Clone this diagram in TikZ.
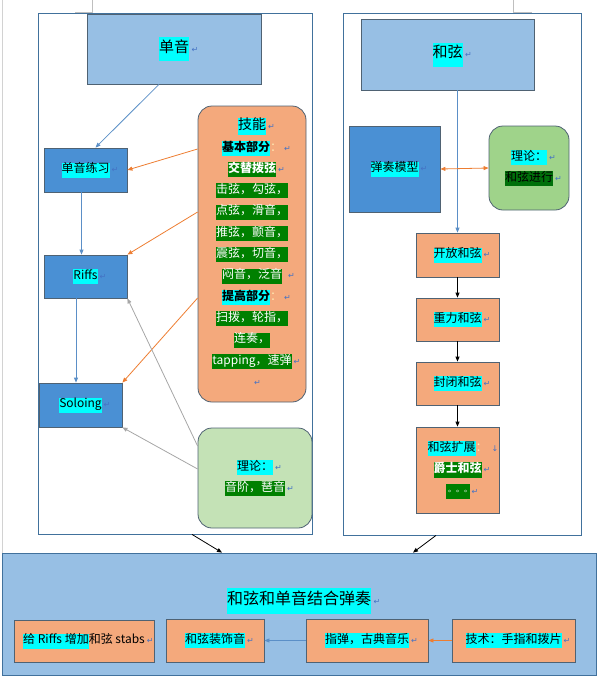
\documentclass[tikz,border=0pt]{standalone}
\usepackage{fontspec}
\setmainfont{Noto Sans CJK SC}
\newfontfamily\symfont{DejaVu Sans}
\newfontfamily\tcfont{Noto Sans CJK TC}
\usetikzlibrary{arrows.meta}

\definecolor{lightblue}{HTML}{97BFE4}
\definecolor{midblue}{HTML}{4A90D4}
\definecolor{orangefill}{HTML}{F4A97C}
\definecolor{palegreen}{HTML}{C4E2B6}
\definecolor{leafgreen}{HTML}{9FD38A}
\definecolor{hlcyan}{HTML}{00FFFF}
\definecolor{hlgreen}{HTML}{008000}
\definecolor{hldark}{HTML}{00700A}
\definecolor{edgegray}{HTML}{4F6273}
\definecolor{framec}{HTML}{41719C}
\definecolor{arrowblue}{HTML}{5B8FC7}
\definecolor{arroworange}{HTML}{ED7D31}
\definecolor{arrowgray}{HTML}{A6A6A6}
\definecolor{markblue}{HTML}{4472C4}
\definecolor{colonc}{HTML}{FFE7B0}

% highlights and paragraph marks
\newcommand\hstrut{\rule[-0.4em]{0pt}{1.25em}}
\newcommand\hlc[1]{{\setlength\fboxsep{0pt}\colorbox{hlcyan}{\hstrut#1}}}
\newcommand\hlg[1]{{\setlength\fboxsep{0pt}\colorbox{hlgreen}{\hstrut\color{white}#1}}}
\newcommand\hld[1]{{\setlength\fboxsep{0pt}\colorbox{hldark}{\hstrut#1}}}
\newcommand\hlbig[1]{{\setlength\fboxsep{0pt}\colorbox{hlcyan}{\rule[-0.6em]{0pt}{1.6em}#1}}}
\newcommand\retmark{\rlap{\,\symfont\fontsize{8}{8}\selectfont\color{markblue}↵}}
\newcommand\downmark{\rlap{\hspace{4pt}\symfont\fontsize{8}{8}\selectfont\color{markblue}↓}}
\newcommand\pcolon{{\color{colonc}：}}

\begin{document}
\begin{tikzpicture}[x=1pt,y=-1pt,
  >={Triangle[length=5pt,width=4pt]},
  every node/.style={font=\fontsize{12}{21.3}\selectfont, inner sep=0pt, align=center},
  frame/.style={draw=framec, line width=0.8pt},
  titlebox/.style={draw=edgegray, line width=0.8pt, fill=lightblue},
  bluebox/.style={draw=edgegray, line width=0.8pt, fill=midblue},
  orbox/.style={draw=edgegray, line width=0.8pt, fill=orangefill},
  skillbox/.style={orbox, rounded corners=14pt},
  theorybox/.style={draw=edgegray, line width=0.8pt, rounded corners=14pt},
  blueline/.style={->, draw=arrowblue, line width=0.8pt},
  orline/.style={->, draw=arroworange, line width=0.8pt},
  grayline/.style={->, draw=arrowgray, line width=0.8pt},
  blackline/.style={->, draw=black, line width=0.8pt}]
\useasboundingbox (0,0) rectangle (599,686);

% page marks
\draw[gray!35] (2,0) -- (2,553);
\draw[gray!50] (75,12) -- (92,12) -- (92,0);
\draw[gray!50] (532,12) -- (513,12) -- (513,0);

% frames
\node[frame, minimum width=274pt, minimum height=521pt] (leftf) at (175,273.5) {};
\node[frame, minimum width=238pt, minimum height=522pt] (rightf) at (462,274) {};
\node[titlebox, draw=framec, minimum width=594pt, minimum height=122pt] (combo) at (299,614) {};

% single notes
\node[titlebox, minimum width=174pt, minimum height=70pt, font=\fontsize{15}{18}\selectfont] (danyin) at (174,49) {\hlbig{单音}\retmark};
\node[bluebox, minimum width=83pt, minimum height=44pt] (lianxi) at (85.5,170) {\hlc{单音练习}\retmark};
\node[bluebox, minimum width=83pt, minimum height=43pt] (riffs) at (85.5,276.5) {\hlc{Riffs}\retmark};
\node[bluebox, minimum width=83pt, minimum height=44pt] (soloing) at (80.5,405) {\hlc{Soloing}\retmark};
\node[skillbox, minimum width=108pt, minimum height=296pt] (skill) at (252,254) {%
  {\fontsize{14}{21.3}\selectfont\hlc{技能}}\retmark\\
  \hlc{\bfseries 基本部分}\pcolon\retmark\\
  \hlg{\bfseries 交替拨弦}\retmark\\
  \hlg{击弦，勾弦，}\\
  \hlg{点弦，滑音，}\\
  \hlg{推弦，颤音，}\\
  \hlg{震弦，切音，}\\
  \hlg{闷音，泛音}\rlap{\hspace{4pt}\retmark}\\
  \hlc{\bfseries 提高部分}\pcolon\retmark\\
  \hlg{扫拨，轮指，}\\
  \hlg{连奏，}\\
  \hlg{tapping，速弹}\retmark\\
  \hstrut\retmark};
\node[theorybox, fill=palegreen, minimum width=114pt, minimum height=100pt] (lilunL) at (255,478) {\hlc{理论：}\retmark\\ \hlg{音阶，琶音}\retmark};

% chords
\node[titlebox, minimum width=173pt, minimum height=71pt, font=\fontsize{15}{18}\selectfont] (hexian) at (447.5,54.5) {\hlbig{和弦}\retmark};
\node[bluebox, minimum width=91pt, minimum height=86pt] (moxing) at (394.5,169) {\hlc{弹奏模型}\retmark};
\node[theorybox, fill=leafgreen, minimum width=80pt, minimum height=84pt] (lilunR) at (529,168) {\hlc{理论：}\retmark\\ \hld{和弦进行}\retmark};
\node[orbox, minimum width=83pt, minimum height=44pt] (kaifang) at (457.5,255) {\hlc{开放和弦}\retmark};
\node[orbox, minimum width=83pt, minimum height=43pt] (zhongli) at (457.5,319.5) {\hlc{重力和弦}\retmark};
\node[orbox, minimum width=83pt, minimum height=43pt] (fengbi) at (457.5,383.5) {\hlc{封闭和弦}\retmark};
\node[orbox, minimum width=83pt, minimum height=86pt] (kuozhan) at (457.5,470) {%
  \hlc{和弦扩展}\pcolon\downmark\\
  \hlg{\bfseries 爵士和弦}\retmark\\
  \hlg{\tcfont\fontsize{8}{8}\selectfont 。。。}\retmark};

% combined
\node[font=\fontsize{16}{20}\selectfont] (combotitle) at (299,601) {\hlbig{和弦和单音结合弹奏}\retmark};
\node[orbox, minimum width=140pt, minimum height=42pt] (stabs) at (84,641) {\hlc{给 Riffs 增加}和弦 stabs\retmark};
\node[orbox, minimum width=98pt, minimum height=43pt] (zhuangshi) at (215,640.5) {\hlc{和弦装饰音}\retmark};
\node[orbox, minimum width=122pt, minimum height=43pt] (zhitan) at (367,640.5) {\hlc{指弹，古典音乐}\retmark};
\node[orbox, minimum width=123pt, minimum height=43pt] (jishu) at (513.5,640.5) {\hlc{技术：手指和拨片}\retmark};

% left arrows
\draw[blueline] ([xshift=-15pt]danyin.south) -- ([xshift=10pt]lianxi.north);
\draw[blueline] ([xshift=-4pt]lianxi.south) -- ([xshift=-4pt]riffs.north);
\draw[blueline] ([xshift=-9.5pt]riffs.south) -- ([xshift=-4.5pt]soloing.north);
\draw[orline] ([yshift=105pt]skill.west) -- (lianxi.east);
\draw[orline] ([yshift=42pt]skill.west) -- (riffs.north east);
\draw[orline] ([yshift=-44pt]skill.west) -- (soloing.north east);
\draw[grayline] ([yshift=32pt]lilunL.west) -- (riffs.south east);
\draw[grayline] ([yshift=9pt]lilunL.west) -- (soloing.south east);

% right arrows
\draw[blueline] (hexian.south -| kaifang.north) -- (kaifang.north);
\draw[orline, <->] (moxing.east) -- (lilunR.west);
\draw[blackline] (kaifang) -- (zhongli);
\draw[blackline] (zhongli) -- (fengbi);
\draw[blackline] (fengbi) -- (kuozhan);

% bottom arrows
\draw[blackline] ([xshift=17pt]leftf.south) -- ([xshift=-77pt]combo.north);
\draw[blackline] ([xshift=-26pt]rightf.south) -- ([xshift=114pt]combo.north);
\draw[orline] (jishu.west) -- (zhitan.east);
\draw[blueline] (zhitan.west) -- (zhuangshi.east);
\end{tikzpicture}
\end{document}
